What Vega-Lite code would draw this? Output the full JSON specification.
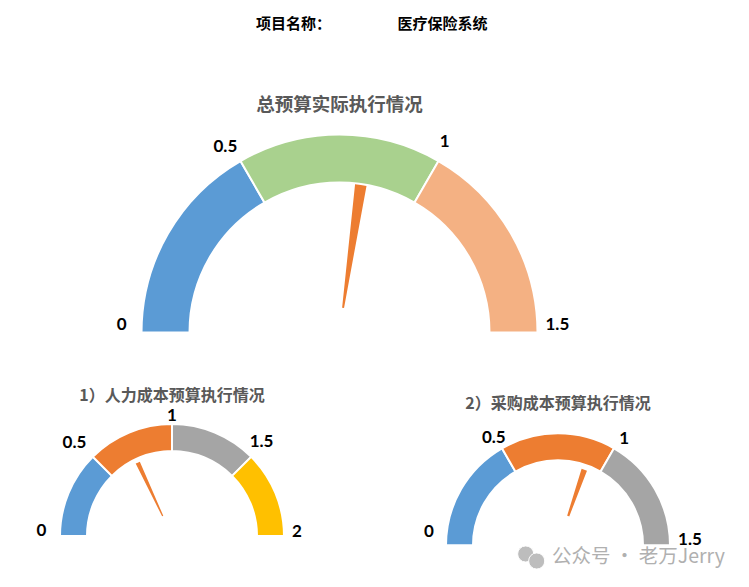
{
"$schema":"https://vega.github.io/schema/vega-lite/v6.json",
"padding":0,
"background":"white",
"spacing":47.5,
"config":{"view":{"stroke":null},"title":{"font":"Noto Sans CJK SC","fontWeight":"bold","color":"#595959"}},
"vconcat":[
{"width":749,"height":48,
 "data":{"values":[{"slot":"label","text":"项目名称："},{"slot":"name","text":"医疗保险系统"}]},
 "mark":{"type":"text","font":"Noto Sans CJK SC","fontWeight":"bold","fontSize":15,"color":"#000000"},
 "encoding":{"x":{"field":"slot","type":"nominal","axis":null,"scale":{"type":"point","domain":["label","name"],"range":[293.5,442.5],"padding":0}},"text":{"field":"text"}}
},
{"width":679,"height":218,
 "title":{"text":"总预算实际执行情况","fontSize":18.5,"offset":8},
 "resolve":{"scale":{"theta":"independent","color":"independent"}},
 "layer":[
 {"data":{"values":[{"segment":"a","from":0,"to":0.5},{"segment":"b","from":0.5,"to":1},{"segment":"c","from":1,"to":1.5}]},
  "mark":{"type":"arc","radius":198,"radius2":150,"stroke":"white","strokeWidth":2},
  "encoding":{"y":{"datum":8,"type":"quantitative","scale":{"domain":[0,218]},"axis":null},
   "theta":{"field":"from","type":"quantitative","scale":{"domain":[0,1.5],"range":[-1.5708,1.5708]}},"theta2":{"field":"to"},
   "color":{"field":"segment","type":"nominal","legend":null,"scale":{"domain":["a","b","c"],"range":["#5B9BD5","#A9D18E","#F4B183"]}}}},
 {"data":{"values":[{"from":0.8,"to":0.837}]},
  "mark":{"type":"arc","radius":149,"radius2":25,"color":"#ED7D31"},
  "encoding":{"y":{"datum":8,"type":"quantitative","scale":{"domain":[0,218]},"axis":null},
   "theta":{"field":"from","type":"quantitative","scale":{"domain":[0,1.5],"range":[-1.5708,1.5708]}},"theta2":{"field":"to"}}},
 {"data":{"values":[{"value":0,"label":"0"},{"value":0.5,"label":"0.5"},{"value":1,"label":"1"},{"value":1.5,"label":"1.5"}]},
  "mark":{"type":"text","font":"Lato","fontWeight":"bold","fontSize":17,"color":"#000000","radius":218},
  "encoding":{"y":{"datum":8,"type":"quantitative","scale":{"domain":[0,218]},"axis":null},
   "theta":{"field":"value","type":"quantitative","scale":{"domain":[0,0.5,1,1.5],"range":[-1.536,-0.551,0.503,1.536]}},"text":{"field":"label"}}}
 ]},
{"hconcat":[
 {"width":344,"height":105,
 "title":{"text":"1）人力成本预算执行情况","fontSize":16,"offset":3},
 "resolve":{"scale":{"theta":"independent","color":"independent"}},
 "layer":[
 {"data":{"values":[{"segment":"a","from":0,"to":0.5},{"segment":"b","from":0.5,"to":1},{"segment":"c","from":1,"to":1.5},{"segment":"d","from":1.5,"to":2}]},
  "mark":{"type":"arc","radius":112,"radius2":85,"stroke":"white","strokeWidth":2},
  "encoding":{"y":{"datum":0,"type":"quantitative","scale":{"domain":[0,105]},"axis":null},
   "theta":{"field":"from","type":"quantitative","scale":{"domain":[0,2],"range":[-1.5708,1.5708]}},"theta2":{"field":"to"},
   "color":{"field":"segment","type":"nominal","legend":null,"scale":{"domain":["a","b","c","d"],"range":["#5B9BD5","#ED7D31","#A5A5A5","#FFC000"]}}}},
 {"data":{"values":[{"from":0.704,"to":0.74}]},
  "mark":{"type":"arc","radius":81,"radius2":22,"color":"#ED7D31"},
  "encoding":{"y":{"datum":0,"type":"quantitative","scale":{"domain":[0,105]},"axis":null},
   "theta":{"field":"from","type":"quantitative","scale":{"domain":[0,2],"range":[-1.5708,1.5708]}},"theta2":{"field":"to"}}},
 {"data":{"values":[{"value":0,"label":"0"},{"value":0.5,"label":"0.5"},{"value":1,"label":"1"},{"value":1.5,"label":"1.5"},{"value":2,"label":"2"}]},
  "mark":{"type":"text","font":"Lato","fontWeight":"bold","fontSize":17,"color":"#000000"},
  "encoding":{"y":{"datum":0,"type":"quantitative","scale":{"domain":[0,105]},"axis":null},
   "radius":{"field":"value","type":"quantitative","scale":{"type":"linear","domain":[0,0.5,1,1.5,2],"range":[130.6,134.7,120,129.8,125]}},
   "theta":{"field":"value","type":"quantitative","scale":{"domain":[0,0.5,1,1.5,2],"range":[-1.531,-0.81,0,0.761,1.536]}},"text":{"field":"label"}}}
 ]},
 {"width":382,"height":157,
 "title":{"text":"2）采购成本预算执行情况","fontSize":16,"offset":17},
 "resolve":{"scale":{"theta":"independent","color":"independent"}},
 "layer":[
 {"data":{"values":[{"segment":"a","from":0,"to":0.5},{"segment":"b","from":0.5,"to":1},{"segment":"c","from":1,"to":1.5}]},
  "mark":{"type":"arc","radius":112,"radius2":85,"stroke":"white","strokeWidth":2},
  "encoding":{"y":{"datum":42.7,"type":"quantitative","scale":{"domain":[0,157]},"axis":null},
   "theta":{"field":"from","type":"quantitative","scale":{"domain":[0,1.5],"range":[-1.5708,1.5708]}},"theta2":{"field":"to"},
   "color":{"field":"segment","type":"nominal","legend":null,"scale":{"domain":["a","b","c"],"range":["#5B9BD5","#ED7D31","#A5A5A5"]}}}},
 {"data":{"values":[{"from":0.893,"to":0.927}]},
  "mark":{"type":"arc","radius":80,"radius2":31,"color":"#ED7D31"},
  "encoding":{"y":{"datum":42.7,"type":"quantitative","scale":{"domain":[0,157]},"axis":null},
   "theta":{"field":"from","type":"quantitative","scale":{"domain":[0,1.5],"range":[-1.5708,1.5708]}},"theta2":{"field":"to"}}},
 {"data":{"values":[{"value":0,"label":"0"},{"value":0.5,"label":"0.5"},{"value":1,"label":"1"},{"value":1.5,"label":"1.5"}]},
  "mark":{"type":"text","font":"Lato","fontWeight":"bold","fontSize":17,"color":"#000000"},
  "encoding":{"y":{"datum":42.7,"type":"quantitative","scale":{"domain":[0,157]},"axis":null},
   "radius":{"field":"value","type":"quantitative","scale":{"type":"linear","domain":[0,0.5,1,1.5],"range":[129.6,125,125,132]}},
   "theta":{"field":"value","type":"quantitative","scale":{"domain":[0,0.5,1,1.5],"range":[-1.47,-0.539,0.559,1.532]}},"text":{"field":"label"}}},
 {"data":{"values":[{"mark":"bubble1","px":158.7,"py":34},{"mark":"bubble2","px":169.7,"py":27}]},
  "mark":{"type":"point","shape":"circle","filled":true,"size":260,"color":"#BDBDBD","stroke":"white","strokeWidth":1,"opacity":1},
  "encoding":{"x":{"field":"px","type":"quantitative","axis":null,"scale":{"domain":[0,382]}},"y":{"field":"py","type":"quantitative","axis":null,"scale":{"domain":[0,157]}}}},
 {"data":{"values":[{"text":"公众号 · 老万Jerry"}]},
  "mark":{"type":"text","font":"Noto Sans CJK SC","fontSize":19.5,"align":"left","color":"#B0B0B0"},
  "encoding":{"x":{"datum":185,"type":"quantitative","axis":null,"scale":{"domain":[0,382]}},"y":{"datum":31,"type":"quantitative","axis":null,"scale":{"domain":[0,157]}},"text":{"field":"text"}}}
 ]}
],"spacing":23}
]}
